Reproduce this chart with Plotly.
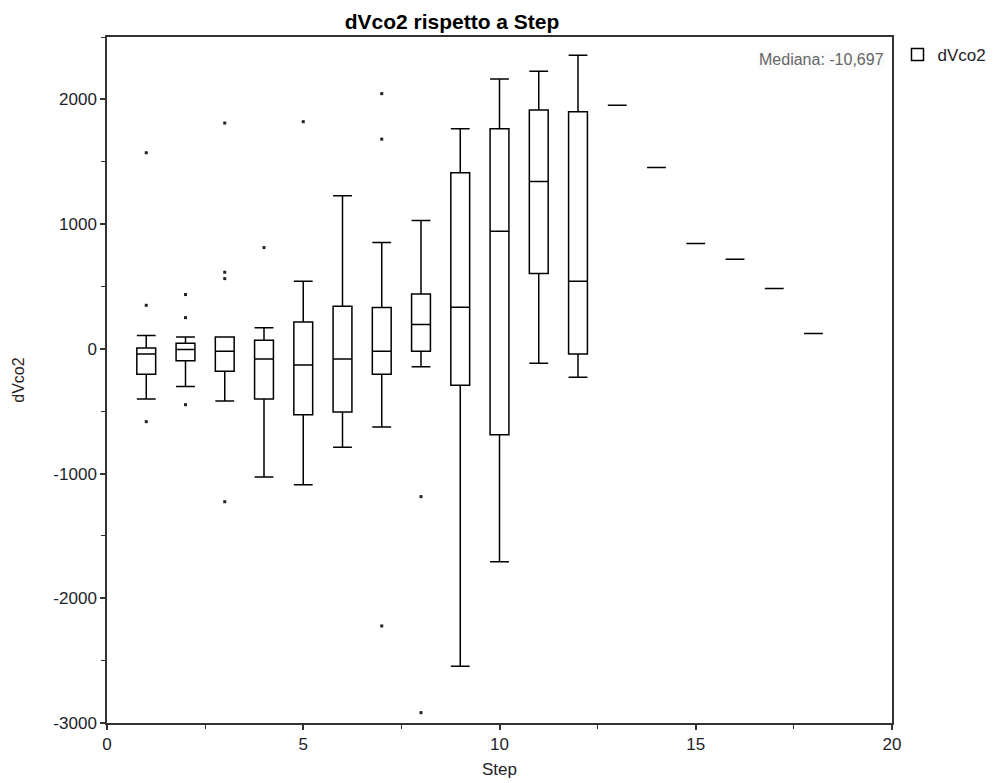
import plotly.graph_objects as go

steps = [1, 2, 3, 4, 5, 6, 7, 8, 9, 10, 11, 12, 13, 14, 15, 16, 17, 18]
q1 = [-204, -95, -180, -402, -528, -507, -204, -20, -293, -689, 604, -41, 1952, 1454, 844, 718, 483, 122]
median = [-41, -6, -20, -81, -130, -81, -20, 194, 333, 943, 1342, 542, 1952, 1454, 844, 718, 483, 122]
q3 = [7, 44, 95, 69, 216, 341, 331, 440, 1412, 1765, 1914, 1901, 1952, 1454, 844, 718, 483, 122]
lower_whisker = [-402, -303, -418, -1028, -1090, -790, -627, -143, -2545, -1708, -116, -228, 1952, 1454, 844, 718, 483, 122]
upper_whisker = [106, 95, 95, 168, 542, 1227, 852, 1029, 1765, 2163, 2225, 2353, 1952, 1454, 844, 718, 483, 122]

outlier_step = [1, 1, 1, 2, 2, 2, 3, 3, 3, 3, 4, 5, 7, 7, 7, 8, 8]
outlier_val = [1572, 349, -584, 435, 250, -448, 1810, 614, 563, -1226, 812, 1821, 2046, 1681, -2222, -1185, -2917]

y_tick_vals = [-3000, -2000, -1000, 0, 1000, 2000]
y_tick_text = ["-3000", "-2000", "-1000", "0", "1000", "2000"]
x_tick_vals = [0, 5, 10, 15, 20]
x_tick_text = ["0", "5", "10", "15", "20"]

median_text = "Mediana: -10,697"

FONT = "Liberation Sans, Arial, sans-serif"

fig = go.Figure()
fig.add_trace(go.Box(
    x=steps, q1=q1, median=median, q3=q3,
    lowerfence=lower_whisker, upperfence=upper_whisker,
    width=0.48, whiskerwidth=1, boxpoints=False,
    line=dict(color="black", width=1.5), fillcolor="white",
    name="dVco2", showlegend=True, hoverinfo="skip",
))
fig.add_trace(go.Scatter(
    x=outlier_step, y=outlier_val, mode="markers",
    marker=dict(symbol="square", size=3, color="#222"),
    showlegend=False, hoverinfo="skip",
))

fig.update_layout(
    width=996, height=783,
    margin=dict(l=107, r=104, t=37, b=60, autoexpand=False),
    paper_bgcolor="white", plot_bgcolor="white",
    font=dict(family=FONT, size=17, color="#1e1e2a"),
    title=dict(text="<b>dVco2 rispetto a Step</b>", x=452/996, xanchor="center",
               y=1 - 22/783, yanchor="middle", xref="container", yref="container",
               font=dict(size=21, color="black", family=FONT)),
    legend=dict(x=1.007, y=1.0, xanchor="left", yanchor="top", font=dict(size=17, color="#1e1e2a"),
                bgcolor="rgba(0,0,0,0)", itemwidth=30),
    showlegend=True,
    annotations=[dict(text=median_text, xref="paper", yref="paper", x=1, y=1,
                      xanchor="right", yanchor="top", xshift=-6, yshift=-12,
                      showarrow=False, bgcolor="#fbfbfb",
                      font=dict(size=16, color="#666", family=FONT))],
)
fig.update_xaxes(
    range=[0, 20], tickmode="array", tickvals=x_tick_vals, ticktext=x_tick_text,
    ticks="outside", ticklen=5, tickwidth=1.5, tickcolor="#333",
    showline=True, linecolor="#333", linewidth=1.5, mirror=True,
    showgrid=False, zeroline=False, automargin=False,
    minor=dict(tickvals=[2.5, 7.5, 12.5, 17.5], ticks="outside", ticklen=4, tickcolor="#333", tickwidth=1, showgrid=False),
    title=dict(text="Step", standoff=10, font=dict(size=17)),
)
fig.update_yaxes(
    range=[-3000, 2500], tickmode="array", tickvals=y_tick_vals, ticktext=y_tick_text,
    ticks="outside", ticklen=5, tickwidth=1.5, tickcolor="#333",
    showline=True, linecolor="#333", linewidth=1.5, mirror=True,
    showgrid=False, zeroline=False, automargin=False,
    minor=dict(tickvals=[-2500, -1500, -500, 500, 1500, 2500], ticks="outside", ticklen=4, tickcolor="#333", tickwidth=1, showgrid=False),
    title=dict(text="dVco2", standoff=25, font=dict(size=16, color="#2a2020")),
)

fig.write_html("out.html")
